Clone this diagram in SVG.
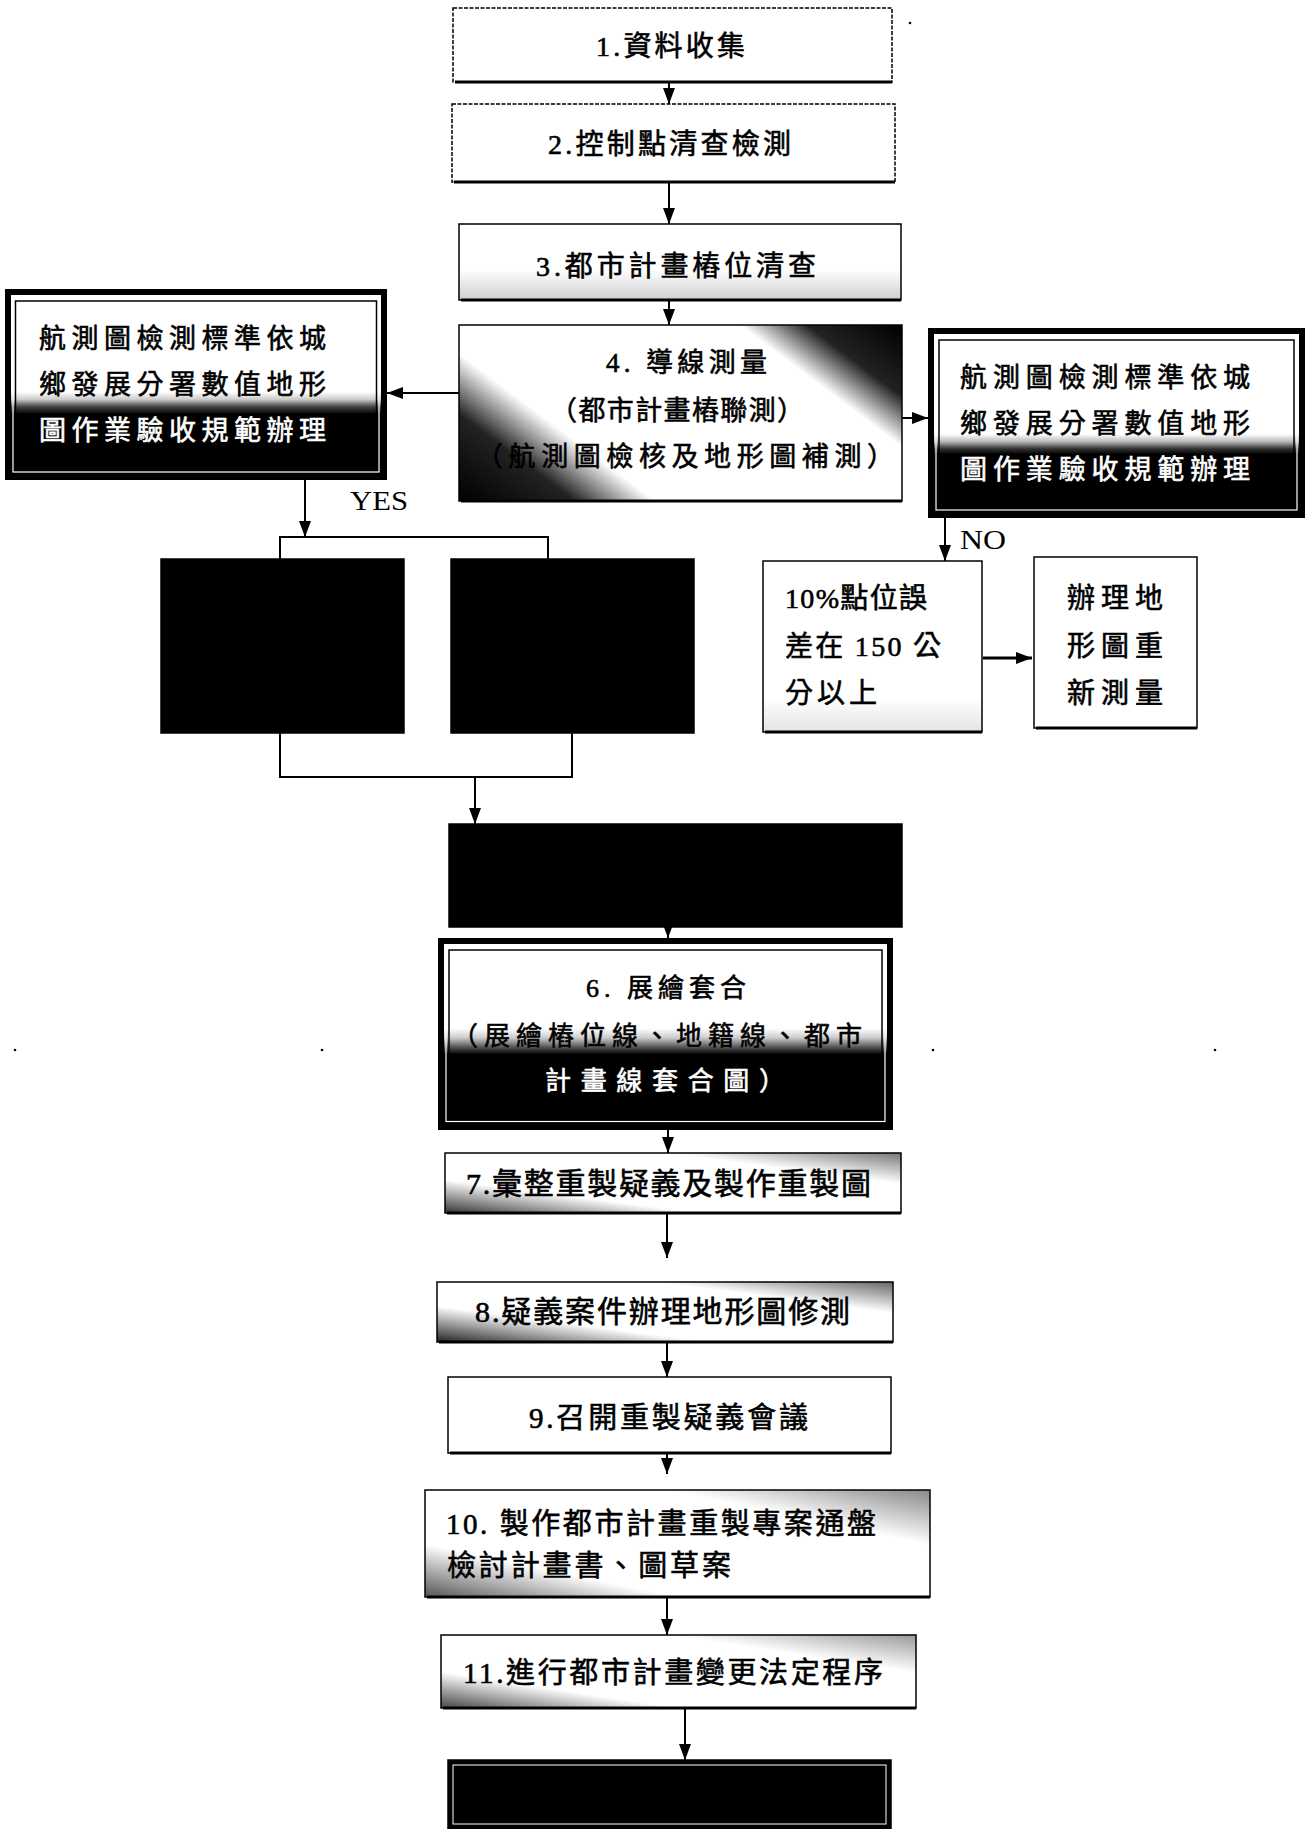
<svg xmlns="http://www.w3.org/2000/svg" width="1309" height="1829" viewBox="0 0 1309 1829">
<style>
.t{font-family:"Liberation Serif","Noto Sans CJK TC",serif;fill:#000;font-weight:400;stroke:#000;stroke-width:0.6}
.w{fill:#fff;stroke:#fff}
.lat{font-family:"Liberation Serif",serif;fill:#000;font-weight:400}
.box{stroke:#000;stroke-width:1.5}
.sh{stroke:#000;stroke-width:3;fill:none}
.c{stroke:#000;stroke-width:2;fill:none}
.blk{fill:#000;stroke:#000;stroke-width:1.5}
</style>
<defs>
<marker id="ah" viewBox="0 0 16 12" refX="16" refY="6" markerWidth="16" markerHeight="12" markerUnits="userSpaceOnUse" orient="auto"><path d="M0,0 L16,6 L0,12 z" fill="#000"/></marker>
<linearGradient id="gL" x1="0" y1="0" x2="0" y2="1"><stop offset="0" stop-color="#fff"/><stop offset="0.54" stop-color="#fff"/><stop offset="0.58" stop-color="#ccc"/><stop offset="0.62" stop-color="#444"/><stop offset="0.66" stop-color="#000"/><stop offset="1" stop-color="#000"/></linearGradient>
<linearGradient id="gR" x1="0" y1="0" x2="0" y2="1"><stop offset="0" stop-color="#fff"/><stop offset="0.56" stop-color="#fff"/><stop offset="0.6" stop-color="#bbb"/><stop offset="0.64" stop-color="#333"/><stop offset="0.67" stop-color="#000"/><stop offset="1" stop-color="#000"/></linearGradient>
<linearGradient id="g6" x1="0" y1="0" x2="0" y2="1"><stop offset="0" stop-color="#fff"/><stop offset="0.47" stop-color="#fff"/><stop offset="0.52" stop-color="#ccc"/><stop offset="0.57" stop-color="#555"/><stop offset="0.61" stop-color="#000"/><stop offset="1" stop-color="#000"/></linearGradient>
<linearGradient id="g3" x1="0" y1="0" x2="0" y2="1"><stop offset="0" stop-color="#fff"/><stop offset="0.6" stop-color="#fff"/><stop offset="1" stop-color="#cfcfcf"/></linearGradient>
<linearGradient id="g4" gradientUnits="userSpaceOnUse" x1="558" y1="575" x2="802" y2="250"><stop offset="0" stop-color="#000"/><stop offset="0.17" stop-color="#222"/><stop offset="0.29" stop-color="#fff"/><stop offset="0.76" stop-color="#fff"/><stop offset="0.86" stop-color="#222"/><stop offset="1" stop-color="#000"/></linearGradient>
<linearGradient id="g7" x1="0" y1="1" x2="1" y2="0"><stop offset="0" stop-color="#333"/><stop offset="0.28" stop-color="#fff"/><stop offset="0.74" stop-color="#fff"/><stop offset="1" stop-color="#777"/></linearGradient>
<linearGradient id="g8" x1="0" y1="1" x2="1" y2="0"><stop offset="0" stop-color="#222"/><stop offset="0.3" stop-color="#fff"/><stop offset="0.74" stop-color="#fff"/><stop offset="1" stop-color="#666"/></linearGradient>
<linearGradient id="g10" x1="0" y1="1" x2="1" y2="0"><stop offset="0" stop-color="#555"/><stop offset="0.25" stop-color="#fff"/><stop offset="0.74" stop-color="#fff"/><stop offset="1" stop-color="#888"/></linearGradient>
<linearGradient id="g11" x1="0" y1="1" x2="1" y2="0"><stop offset="0" stop-color="#444"/><stop offset="0.25" stop-color="#fff"/><stop offset="0.74" stop-color="#fff"/><stop offset="1" stop-color="#999"/></linearGradient>
<linearGradient id="gP" x1="0" y1="0" x2="0" y2="1"><stop offset="0" stop-color="#fff"/><stop offset="0.8" stop-color="#fff"/><stop offset="1" stop-color="#e4e4e4"/></linearGradient>
</defs>
<rect width="1309" height="1829" fill="#fff"/>

<g id="connectors">
<path class="c" d="M669,82 V104" marker-end="url(#ah)"/>
<path class="c" d="M669,182 V224" marker-end="url(#ah)"/>
<path class="c" d="M669,300 V325" marker-end="url(#ah)"/>
<path class="c" d="M459,393 H387" marker-end="url(#ah)"/>
<path class="c" d="M902,418 H928" marker-end="url(#ah)"/>
<path class="c" d="M305,480 V537" marker-end="url(#ah)"/>
<path class="c" d="M280,560 V537 H548 V560"/>
<path class="c" d="M280,733 V777 H572 V733"/>
<path class="c" d="M475,777 V824" marker-end="url(#ah)"/>
<path class="c" d="M945,518 V561" marker-end="url(#ah)"/>
<path class="c" style="stroke-width:3" d="M983,658 H1032" marker-end="url(#ah)"/>
<path class="c" d="M668,927 V938" marker-end="url(#ah)"/>
<path class="c" d="M668,1130 V1153" marker-end="url(#ah)"/>
<path class="c" d="M667,1213 V1258" marker-end="url(#ah)"/>
<path class="c" d="M667,1342 V1377" marker-end="url(#ah)"/>
<path class="c" d="M667,1453 V1474" marker-end="url(#ah)"/>
<path class="c" d="M667,1597 V1635" marker-end="url(#ah)"/>
<path class="c" d="M685,1708 V1760" marker-end="url(#ah)"/>
</g>

<g id="n1">
<rect class="box" x="453" y="8" width="439" height="74" fill="#fff" stroke-dasharray="4 1.5"/>
<path class="sh" d="M455,82 H892"/>
<text class="t" x="596" y="56" font-size="28" textLength="149" lengthAdjust="spacing">1.資料收集</text>
</g>

<g id="n2">
<rect class="box" x="452" y="104" width="443" height="78" fill="#fff" stroke-dasharray="4 1.5"/>
<path class="sh" d="M454,182 H895"/>
<text class="t" x="548" y="154" font-size="28" textLength="243" lengthAdjust="spacing">2.控制點清查檢測</text>
</g>

<g id="n3">
<rect class="box" x="459" y="224" width="442" height="76" fill="url(#g3)"/>
<path class="sh" d="M461,300 H901"/>
<text class="t" x="536" y="276" font-size="28" textLength="280" lengthAdjust="spacing">3.都市計畫樁位清查</text>
</g>

<g id="n4">
<rect class="box" x="459" y="325" width="443" height="176" fill="url(#g4)"/>
<path class="sh" d="M461,501 H902"/>
<text class="t" x="606" y="372" font-size="27" textLength="161" lengthAdjust="spacing">4. 導線測量</text>
<text class="t" x="550" y="420" font-size="27" textLength="254" lengthAdjust="spacing">（都市計畫樁聯測）</text>
<text class="t" x="476" y="466" font-size="27" textLength="418" lengthAdjust="spacing">（航測圖檢核及地形圖補測）</text>
</g>

<g id="nL">
<rect x="8" y="292" width="376" height="185" fill="url(#gL)" stroke="#000" stroke-width="6"/>
<rect x="13" y="298" width="366" height="174" fill="none" stroke="#fff" stroke-width="1.2"/>
<rect x="15.5" y="301" width="361" height="168" fill="none" stroke="#000" stroke-width="1.5"/>
<text class="t" x="39" y="348" font-size="27" textLength="287" lengthAdjust="spacing">航測圖檢測標準依城</text>
<text class="t" x="39" y="394" font-size="27" textLength="287" lengthAdjust="spacing">鄉發展分署數值地形</text>
<text class="t w" x="39" y="440" font-size="27" textLength="287" lengthAdjust="spacing">圖作業驗收規範辦理</text>
</g>

<g id="nR">
<rect x="931" y="331" width="371" height="184" fill="url(#gR)" stroke="#000" stroke-width="6"/>
<rect x="936" y="337" width="361" height="173" fill="none" stroke="#fff" stroke-width="1.2"/>
<rect x="939" y="340" width="355" height="167" fill="none" stroke="#000" stroke-width="1.5"/>
<text class="t" x="960" y="387" font-size="27" textLength="290" lengthAdjust="spacing">航測圖檢測標準依城</text>
<text class="t" x="960" y="433" font-size="27" textLength="290" lengthAdjust="spacing">鄉發展分署數值地形</text>
<text class="t w" x="960" y="479" font-size="27" textLength="290" lengthAdjust="spacing">圖作業驗收規範辦理</text>
</g>

<g id="yes-label"><text class="lat" x="350" y="510" font-size="28" textLength="58" lengthAdjust="spacingAndGlyphs">YES</text></g>
<g id="no-label"><text class="lat" x="960" y="549" font-size="28" textLength="46" lengthAdjust="spacingAndGlyphs">NO</text></g>

<g id="nA"><rect class="blk" x="161" y="559" width="243" height="174"/></g>
<g id="nB"><rect class="blk" x="451" y="559" width="243" height="174"/></g>

<g id="n10pct">
<rect class="box" x="763" y="561" width="219" height="171" fill="url(#gP)"/>
<path class="sh" d="M765,732 H982"/>
<text class="t" x="785" y="608" font-size="28" textLength="142" lengthAdjust="spacing">10%點位誤</text>
<text class="t" x="785" y="656" font-size="28" textLength="156" lengthAdjust="spacing">差在 150 公</text>
<text class="t" x="785" y="703" font-size="28" textLength="92" lengthAdjust="spacing">分以上</text>
</g>

<g id="nResurvey">
<rect class="box" x="1034" y="557" width="163" height="171" fill="#fff"/>
<path class="sh" d="M1036,728 H1197"/>
<text class="t" x="1067" y="608" font-size="28" textLength="96" lengthAdjust="spacing">辦理地</text>
<text class="t" x="1067" y="656" font-size="28" textLength="96" lengthAdjust="spacing">形圖重</text>
<text class="t" x="1067" y="703" font-size="28" textLength="96" lengthAdjust="spacing">新測量</text>
</g>

<g id="n5"><rect class="blk" x="449" y="824" width="453" height="103"/></g>

<g id="n6">
<rect x="441" y="941" width="449" height="186" fill="url(#g6)" stroke="#000" stroke-width="6"/>
<rect x="446" y="946.5" width="439" height="175" fill="none" stroke="#fff" stroke-width="1.2"/>
<rect x="449" y="950" width="433" height="168" fill="none" stroke="#000" stroke-width="1.5"/>
<text class="t" x="586" y="997" font-size="26" textLength="160" lengthAdjust="spacing">6. 展繪套合</text>
<text class="t" x="452" y="1045" font-size="26" textLength="410" lengthAdjust="spacing">（展繪樁位線、地籍線、都市</text>
<text class="t w" x="545" y="1090" font-size="26" textLength="240" lengthAdjust="spacing">計畫線套合圖）</text>
</g>

<g id="n7">
<rect class="box" x="445" y="1153" width="456" height="60" fill="url(#g7)"/>
<path class="sh" d="M447,1213 H901"/>
<text class="t" x="466" y="1194" font-size="30" textLength="405" lengthAdjust="spacing">7.彙整重製疑義及製作重製圖</text>
</g>

<g id="n8">
<rect class="box" x="437" y="1282" width="456" height="60" fill="url(#g8)"/>
<path class="sh" d="M439,1342 H893"/>
<text class="t" x="475" y="1322" font-size="30" textLength="375" lengthAdjust="spacing">8.疑義案件辦理地形圖修測</text>
</g>

<g id="n9">
<rect class="box" x="448" y="1377" width="443" height="76" fill="#fff"/>
<path class="sh" d="M450,1453 H891"/>
<text class="t" x="529" y="1428" font-size="29" textLength="279" lengthAdjust="spacing">9.召開重製疑義會議</text>
</g>

<g id="n10">
<rect class="box" x="425" y="1490" width="505" height="107" fill="url(#g10)"/>
<path class="sh" d="M427,1597 H930"/>
<text class="t" x="446" y="1534" font-size="29" textLength="430" lengthAdjust="spacing">10. 製作都市計畫重製專案通盤</text>
<text class="t" x="447" y="1576" font-size="29" textLength="284" lengthAdjust="spacing">檢討計畫書、圖草案</text>
</g>

<g id="n11">
<rect class="box" x="441" y="1635" width="475" height="73" fill="url(#g11)"/>
<path class="sh" d="M443,1708 H916"/>
<text class="t" x="463" y="1683" font-size="29" textLength="420" lengthAdjust="spacing">11.進行都市計畫變更法定程序</text>
</g>

<g id="n12">
<rect class="blk" x="448" y="1760" width="443" height="69"/>
<rect x="453" y="1765" width="433" height="59" fill="none" stroke="#fff" stroke-width="1"/>
</g>

<g id="specks" fill="#000">
<circle cx="910" cy="23" r="1.3"/>
<circle cx="15" cy="1050" r="1.3"/>
<circle cx="322" cy="1050" r="1.3"/>
<circle cx="933" cy="1050" r="1.3"/>
<circle cx="1215" cy="1050" r="1.3"/>
</g>
</svg>
